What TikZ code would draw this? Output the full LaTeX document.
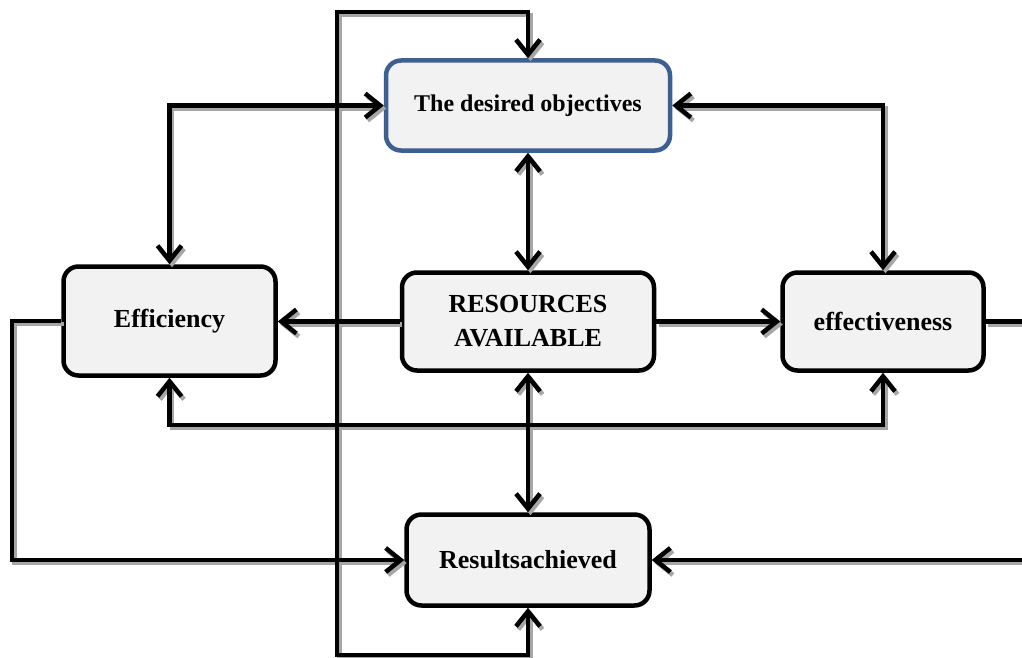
\documentclass[tikz,border=0pt]{standalone}
\usepackage{fontspec}
\setmainfont{Liberation Serif}
\usetikzlibrary{arrows.meta}
\definecolor{boxfill}{RGB}{242,242,242}
\definecolor{boxblue}{RGB}{60,96,145}

\begin{document}
\begin{tikzpicture}[
		x=1pt,y=-1pt,
		box/.style={draw,line width=4.5pt,rounded corners=15pt,fill=boxfill,align=center,
			font=\fontsize{26}{34}\selectfont\bfseries,inner sep=0pt},
		link/.style={line width=4.5pt,draw=#1},
		tip/.style={-{Straight Barb[length=15pt,width=24pt]}},
		both/.style={{Straight Barb[length=15pt,width=24pt]}-{Straight Barb[length=15pt,width=24pt]}}
		]
		\useasboundingbox (0,0) rectangle (1022,658);
		% the five boxes
		\node[box,draw=boxblue,minimum width=284pt,minimum height=90pt,font=\fontsize{24}{30}\selectfont\bfseries]
			(obj) at (528,105.5) {The desired objectives};
		\node[box,minimum width=212pt,minimum height=109pt] (eff) at (169.5,321) {Efficiency};
		\node[box,minimum width=252pt,minimum height=98pt] (res) at (528,321.5) {RESOURCES\\AVAILABLE};
		\node[box,minimum width=201pt,minimum height=98pt] (effv) at (883,321.5) {effectiveness};
		\node[box,minimum width=243pt,minimum height=91pt] (result) at (528,560) {Resultsachieved};
		% corner points of the outer lines
		\coordinate (tl) at (337,12);
		\coordinate (bl) at (337,655);
		\coordinate (lx) at (12,321);
		\coordinate (rx) at (1040,321.5);
		\coordinate (ly) at (500,425);
		% connectors, gray shadow first
		\foreach \col/\sx/\sy in {black!35/2.5pt/-3pt,black/0pt/0pt} {
			\begin{scope}[transform canvas={shift={(\sx,\sy)}}]
			\draw[link=\col,both] (obj.north) |- (tl) -- (bl) -| (result.south);
			\draw[link=\col,both] (obj.west) -| (eff.north);
			\draw[link=\col,both] (obj.east) -| (effv.north);
			\draw[link=\col,both] (obj.south) -- (res.north);
			\draw[link=\col,tip] (res.west) -- (res.west -| eff.east);
			\draw[link=\col,tip] (res.east) -- (res.east -| effv.west);
			\draw[link=\col,both] (res.south) -- (result.north);
			\draw[link=\col,both] (eff.south) |- (ly) -| (effv.south);
			\draw[link=\col,tip] (eff.west) -- (lx) |- (result.west);
			\draw[link=\col,tip] (effv.east) -- (rx) |- (result.east);
			\end{scope}
		}
\end{tikzpicture}
\end{document}
